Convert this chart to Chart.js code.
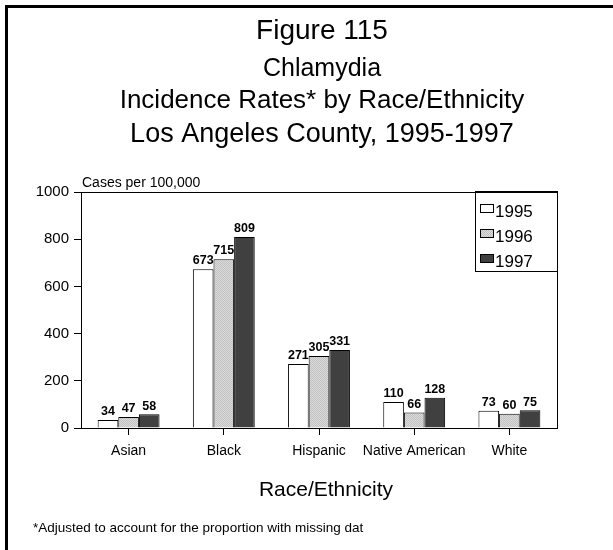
<!DOCTYPE html>
<html>
<head>
<meta charset="utf-8">
<script src="https://cdn.jsdelivr.net/npm/chart.js@4/dist/chart.umd.min.js"></script>
<style>
  html, body { margin: 0; padding: 0; background: #fff; overflow: hidden; }
  #wrap { position: relative; width: 613px; height: 550px; }
</style>
</head>
<body>
<div id="wrap"><canvas id="c" width="613" height="550"></canvas></div>
<script>
// Categories and yearly rates (cases per 100,000)
const categories = ['Asian', 'Black', 'Hispanic', 'Native American', 'White'];
const years = ['1995', '1996', '1997'];
const rates1995 = [34, 673, 271, 110, 73];
const rates1996 = [47, 715, 305, 66, 60];
const rates1997 = [58, 809, 331, 128, 75];
const yTicks = [0, 200, 400, 600, 800, 1000];

const titleLines = ['Figure 115', 'Chlamydia', 'Incidence Rates* by Race/Ethnicity', 'Los Angeles County, 1995-1997'];
const unitLabel = 'Cases per 100,000';
const xTitle = 'Race/Ethnicity';
const footnote = '*Adjusted to account for the proportion with missing dat';

const FONT = "'Liberation Sans', Arial, Helvetica, sans-serif";

// Fine stippled grey fill for the middle year
function stipple() {
  const p = document.createElement('canvas');
  p.width = 2; p.height = 2;
  const g = p.getContext('2d');
  g.fillStyle = '#dadada';
  g.fillRect(0, 0, 2, 2);
  g.fillStyle = '#c2c2c2';
  g.fillRect(0, 0, 1, 1);
  g.fillRect(1, 1, 1, 1);
  return g.createPattern(p, 'repeat');
}
const fills = ['#ffffff', stipple(), '#404040'];

// Page frame, headings, plot frame, value labels, legend and footnote
const decorations = {
  id: 'decorations',
  beforeDraw(chart) {
    const ctx = chart.ctx;
    ctx.save();
    ctx.fillStyle = '#fff';
    ctx.fillRect(0, 0, chart.width, chart.height);
    ctx.fillStyle = '#000';
    ctx.fillRect(5, 5, chart.width - 5, 3);
    ctx.fillRect(5, 5, 3, chart.height - 5);
    ctx.restore();
  },
  afterDraw(chart) {
    const ctx = chart.ctx;
    const a = chart.chartArea;
    ctx.save();
    ctx.fillStyle = '#000';
    ctx.textAlign = 'center';
    ctx.textBaseline = 'alphabetic';
    const cx = 322;
    ctx.font = '28px ' + FONT;
    ctx.fillText(titleLines[0], cx, 39);
    ctx.font = '25px ' + FONT;
    ctx.fillText(titleLines[1], cx, 76);
    ctx.font = '26px ' + FONT;
    ctx.fillText(titleLines[2], cx, 108);
    ctx.font = '27px ' + FONT;
    ctx.fillText(titleLines[3], cx, 142);

    // plot frame (top and right)
    ctx.strokeStyle = '#000';
    ctx.lineWidth = 1;
    ctx.beginPath();
    ctx.moveTo(a.left, a.top + 0.5);
    ctx.lineTo(a.right + 0.5, a.top + 0.5);
    ctx.lineTo(a.right + 0.5, a.bottom);
    ctx.stroke();

    // unit label above the value axis
    ctx.textAlign = 'left';
    ctx.font = '14px ' + FONT;
    ctx.fillText(unitLabel, a.left + 1, a.top - 5);

    // axis title
    ctx.textAlign = 'center';
    ctx.font = '21px ' + FONT;
    ctx.fillText(xTitle, (a.left + a.right) / 2 + 7, 496);

    // value labels above each bar
    ctx.font = 'bold 12.5px ' + FONT;
    ctx.textBaseline = 'bottom';
    chart.data.datasets.forEach((ds, di) => {
      chart.getDatasetMeta(di).data.forEach((bar, i) => {
        ctx.fillText(String(ds.data[i]), bar.x, bar.y - 2);
      });
    });

    // legend box
    const lx = 475, ly = 191, lw = 82, lh = 80;
    ctx.lineWidth = 1;
    ctx.strokeRect(lx + 0.5, ly + 0.5, lw, lh);
    ctx.textAlign = 'left';
    ctx.textBaseline = 'alphabetic';
    ctx.font = '17px ' + FONT;
    chart.data.datasets.forEach((ds, di) => {
      const y = 204 + di * 25;
      ctx.fillStyle = ds.backgroundColor;
      ctx.fillRect(480, y, 13, 8);
      ctx.strokeStyle = '#000';
      ctx.strokeRect(480.5, y + 0.5, 13, 8);
      ctx.fillStyle = '#000';
      ctx.fillText(ds.label, 495, y + 13);
    });

    // footnote
    ctx.font = '13.5px ' + FONT;
    ctx.fillText(footnote, 33, 532);
    ctx.restore();
  }
};

const datasets = [rates1995, rates1996, rates1997].map((vals, i) => ({
  label: years[i],
  data: vals,
  backgroundColor: fills[i],
  borderColor: '#000',
  borderWidth: 1,
  categoryPercentage: 0.65,
  barPercentage: 1.0
}));

new Chart(document.getElementById('c'), {
  type: 'bar',
  data: { labels: categories, datasets },
  plugins: [decorations],
  options: {
    responsive: false,
    animation: false,
    devicePixelRatio: 1,
    layout: { padding: { left: 0, right: 56, top: 192, bottom: 92 } },
    plugins: {
      legend: { display: false },
      title: { display: false },
      tooltip: { enabled: false }
    },
    scales: {
      x: {
        offset: true,
        grid: { display: true, drawOnChartArea: false, drawTicks: true, tickLength: 7, offset: false, color: '#000' },
        border: { display: true, color: '#000' },
        ticks: { color: '#000', font: { family: FONT, size: 14 }, padding: 8, maxRotation: 0, autoSkip: false },
        afterFit(s) { s.height = 30; }
      },
      y: {
        min: 0,
        max: 1000,
        afterBuildTicks(s) { s.ticks = yTicks.map(v => ({ value: v })); },
        grid: { display: true, drawOnChartArea: false, drawTicks: true, tickLength: 7, color: '#000' },
        border: { display: true, color: '#000' },
        ticks: { color: '#000', font: { family: FONT, size: 15 }, padding: 5, callback: v => String(v) },
        afterFit(s) { s.width = 81; }
      }
    }
  }
});
</script>
</body>
</html>
